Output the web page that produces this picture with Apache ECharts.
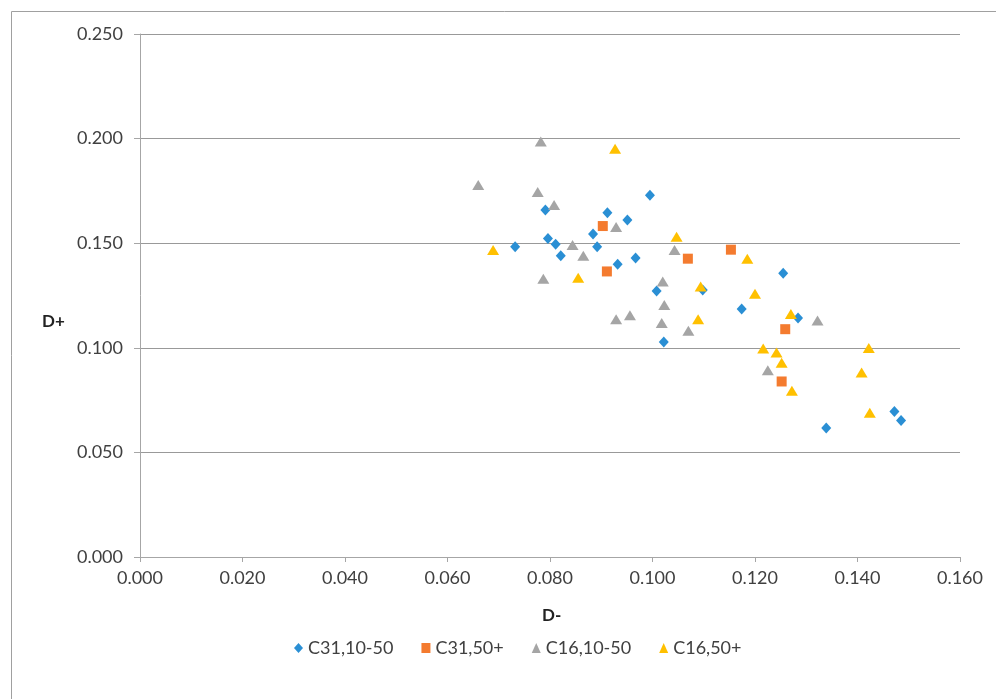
<!DOCTYPE html>
<html><head><meta charset="utf-8">
<script src="https://cdn.jsdelivr.net/npm/echarts@6/dist/echarts.min.js"></script>
<style>html,body{margin:0;padding:0;background:#fff;}#c{width:996px;height:699px;}</style>
</head><body><div id="c"></div>
<script>
const seriesNames = ["C31,10-50", "C31,50+", "C16,10-50", "C16,50+"];
const xTicks = [0, 0.02, 0.04, 0.06, 0.08, 0.10, 0.12, 0.14, 0.16];
const yTicks = [0, 0.05, 0.10, 0.15, 0.20, 0.25];

const c31_10_50 = [
  [0.0732,0.1483],[0.0791,0.1659],[0.0796,0.1522],[0.0811,0.1495],[0.0821,0.1440],
  [0.0884,0.1544],[0.0892,0.1483],[0.0912,0.1646],[0.0932,0.1399],[0.0951,0.1611],
  [0.0967,0.1429],[0.0995,0.1729],[0.1008,0.1272],[0.1022,0.1028],[0.1098,0.1276],
  [0.1174,0.1185],[0.1255,0.1356],[0.1284,0.1142],[0.1339,0.0617],[0.1472,0.0696],
  [0.1485,0.0652]
];
const c31_50p = [
  [0.0903,0.1582],[0.0911,0.1365],[0.1069,0.1426],[0.1153,0.1469],[0.1259,0.1089],[0.1252,0.0839]
];
const c16_10_50 = [
  [0.0660,0.1778],[0.0782,0.1986],[0.0776,0.1745],[0.0808,0.1683],[0.0787,0.1330],
  [0.0844,0.1491],[0.0865,0.1440],[0.0929,0.1577],[0.0929,0.1137],[0.0956,0.1156],
  [0.1020,0.1317],[0.1023,0.1204],[0.1018,0.1118],[0.1043,0.1467],[0.1070,0.1082],
  [0.1225,0.0893],[0.1322,0.1130]
];
const c16_50p = [
  [0.0689,0.1467],[0.0855,0.1335],[0.0927,0.1952],[0.1047,0.1531],[0.1094,0.1293],
  [0.1089,0.1137],[0.1185,0.1426],[0.1200,0.1258],[0.1270,0.1161],[0.1216,0.0997],
  [0.1242,0.0977],[0.1252,0.0929],[0.1272,0.0795],[0.1422,0.0999],[0.1408,0.0882],
  [0.1424,0.0690]
];

const FONT = 'Lato';
const chart = echarts.init(document.getElementById('c'), null, {renderer:'canvas'});
const axisGray = '#a6a6a6';
const labelColor = '#404040';
chart.setOption({
  animation:false,
  textStyle:{fontFamily:FONT},
  graphic:[
    {type:'rect', shape:{x:11.5,y:11.5,width:1100,height:800}, style:{fill:'none',stroke:'#a0a0a0',lineWidth:1}, silent:true},
    {type:'text', left:42, top:313, style:{text:'D+', font:'bold 17px '+FONT, fill:'#222'}},
    {type:'text', left:542, top:607, style:{text:'D-', font:'bold 17px '+FONT, fill:'#222'}}
  ],
  grid:{left:140, top:34, width:820, height:523, containLabel:false},
  xAxis:{
    type:'value', min:xTicks[0], max:xTicks[xTicks.length-1], interval:0.02,
    axisLine:{show:true, onZero:false, lineStyle:{color:axisGray,width:1}},
    axisTick:{show:true, length:5, lineStyle:{color:axisGray}},
    splitLine:{show:false},
    axisLabel:{color:labelColor, fontSize:18, fontFamily:FONT, margin:12, formatter:v=>v.toFixed(3)}
  },
  yAxis:{
    type:'value', min:yTicks[0], max:yTicks[yTicks.length-1], interval:0.05,
    axisLine:{show:true, lineStyle:{color:axisGray,width:1}},
    axisTick:{show:true, length:6, lineStyle:{color:axisGray}},
    splitLine:{show:true, lineStyle:{color:'#999',width:1}},
    axisLabel:{color:labelColor, fontSize:18, fontFamily:FONT, margin:17, formatter:v=>v.toFixed(3)}
  },
  legend:{
    top:634, left:289, itemGap:28, itemWidth:9, itemHeight:10,
    textStyle:{fontSize:18, color:labelColor, fontFamily:FONT, padding:[0,0,0,0]},
    data:[
      {name:seriesNames[0], icon:'diamond'},
      {name:seriesNames[1], icon:'rect'},
      {name:seriesNames[2], icon:'triangle'},
      {name:seriesNames[3], icon:'triangle'}
    ]
  },
  series:[
    {name:seriesNames[0], type:'scatter', data:c31_10_50, symbol:'diamond', symbolSize:[10,11], itemStyle:{color:'#2a8fd4', opacity:1}},
    {name:seriesNames[1], type:'scatter', data:c31_50p, symbol:'rect', symbolSize:10, itemStyle:{color:'#f47b2f', opacity:1}},
    {name:seriesNames[2], type:'scatter', data:c16_10_50, symbol:'triangle', symbolSize:[12,10], itemStyle:{color:'#a5a5a5', opacity:1}},
    {name:seriesNames[3], type:'scatter', data:c16_50p, symbol:'triangle', symbolSize:[12,10], itemStyle:{color:'#ffc000', opacity:1}}
  ]
});
</script></body></html>
